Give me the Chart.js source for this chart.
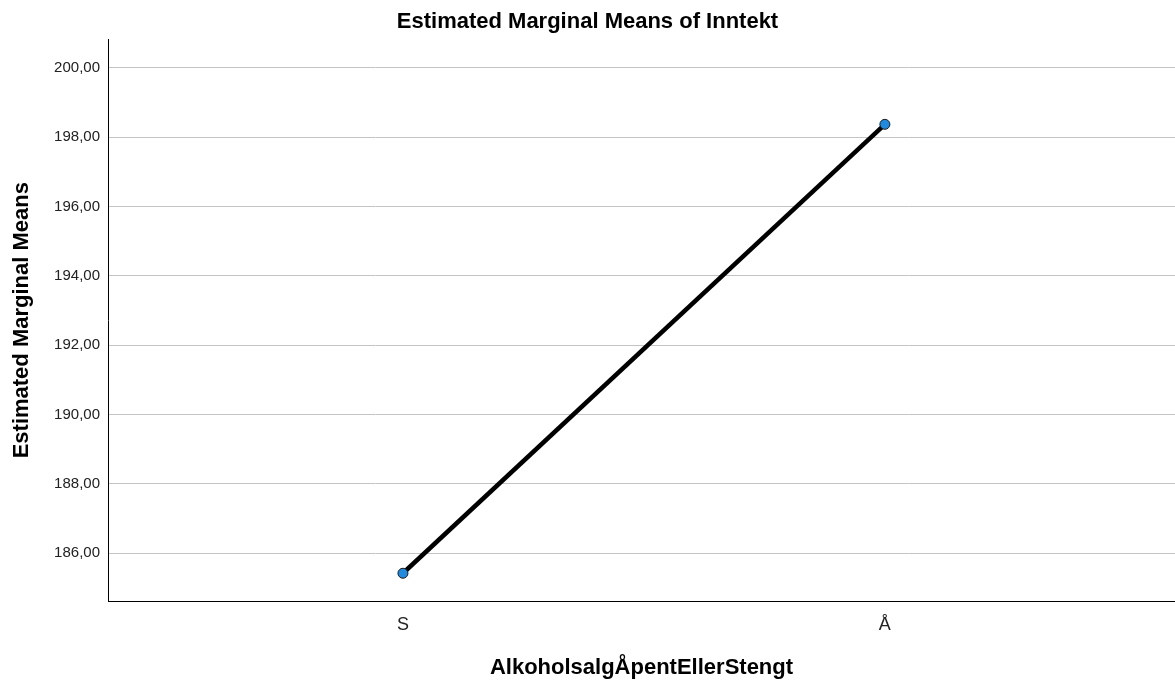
<!DOCTYPE html>
<html>
<head>
<meta charset="utf-8">
<script src="https://cdn.jsdelivr.net/npm/chart.js@4/dist/chart.umd.min.js"></script>
<style>
html,body{margin:0;padding:0;background:#fff;}
canvas{display:block;}
</style>
</head>
<body>
<canvas id="c" width="1175" height="683"></canvas>
<script>
const categories = ['S', 'Å'];
const means = [185.42, 198.37];
const yTicks = [186, 188, 190, 192, 194, 196, 198, 200];
const chartTitle = 'Estimated Marginal Means of Inntekt';
const xTitle = 'AlkoholsalgÅpentEllerStengt';
const yTitle = 'Estimated Marginal Means';

const FONT = "'Liberation Sans', Arial, sans-serif";

new Chart(document.getElementById('c'), {
  type: 'line',
  data: {
    datasets: [{
      data: categories.map((c, i) => ({x: i, y: means[i]})),
      borderColor: '#000',
      borderWidth: 4.5,
      pointRadius: 5,
      pointHoverRadius: 5,
      pointBackgroundColor: '#1e8ae0',
      pointBorderColor: '#1a1a1a',
      pointBorderWidth: 1,
      tension: 0,
      fill: false
    }]
  },
  options: {
    responsive: false,
    animation: false,
    layout: {autoPadding: false, padding: {left: 0, right: 0, top: 0, bottom: 0}},
    plugins: {
      legend: {display: false},
      tooltip: {enabled: false},
      title: {
        display: true,
        text: chartTitle,
        color: '#000',
        font: {family: FONT, size: 22, weight: 'bold'},
        padding: {top: 9, bottom: 4}
      }
    },
    scales: {
      x: {
        type: 'linear',
        min: -0.612,
        max: 1.602,
        afterBuildTicks: s => { s.ticks = categories.map((c, i) => ({value: i})); },
        afterFit: s => { s.height = 82; s.paddingLeft = 0; s.paddingRight = 0; },
        grid: {display: false, drawTicks: false},
        border: {display: true, color: '#000', width: 1},
        ticks: {
          color: '#222',
          font: {family: FONT, size: 18},
          padding: 13,
          callback: v => categories[v]
        },
        title: {
          display: true,
          text: xTitle,
          color: '#000',
          font: {family: FONT, size: 22, weight: 'bold'},
          padding: {top: 0, bottom: 2}
        }
      },
      y: {
        min: 184.62,
        max: 200.82,
        afterBuildTicks: s => { s.ticks = yTicks.map(v => ({value: v})); },
        afterFit: s => { s.width = 108; },
        grid: {color: '#c4c4c4', lineWidth: 1, drawTicks: false},
        border: {display: true, color: '#000', width: 1},
        ticks: {
          color: '#222',
          font: {family: FONT, size: 15},
          padding: 8,
          callback: v => v.toFixed(2).replace('.', ',')
        },
        title: {
          display: true,
          text: yTitle,
          color: '#000',
          font: {family: FONT, size: 22, weight: 'bold'},
          padding: {top: 9, bottom: 0}
        }
      }
    }
  }
});
</script>
</body>
</html>
